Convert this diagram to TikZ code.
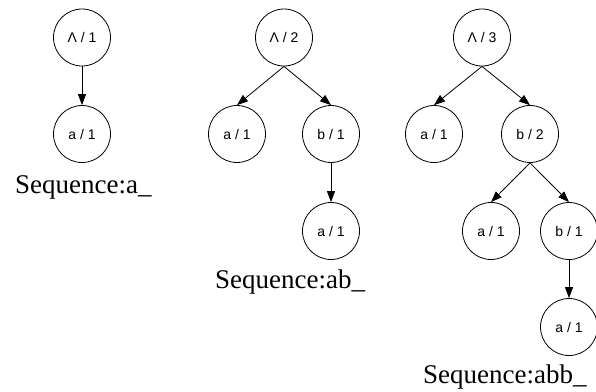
\documentclass[tikz,border=0pt]{standalone}
\usepackage{fontspec}
\setmainfont{Liberation Serif}
\newfontfamily\labfont{Liberation Sans}
\usetikzlibrary{arrows.meta}
\begin{document}
\begin{tikzpicture}[x=1pt,y=-1pt,
  tnode/.style={circle,draw,line width=0.8pt,minimum size=57pt,inner sep=0pt,font=\labfont\fontsize{14}{16}\selectfont},
  link/.style={line width=0.8pt,-{Triangle[length=11pt,width=8pt]}},
  seqcap/.style={anchor=base west,inner sep=0pt,font=\fontsize{27}{30}\selectfont}]
\useasboundingbox (0,0) rectangle (596,391);
% tree 1
\node[tnode] (r1) at (82,37.5) {Λ / 1};
\node[tnode] (r1a) at (82,134) {a / 1};
\draw[link] (r1.south) -- (r1a.north);
\node[seqcap] (s1) at (15,193) {Sequence:a\_};
% tree 2
\node[tnode] (r2) at (284,37.5) {Λ / 2};
\node[tnode] (r2a) at (237,134) {a / 1};
\node[tnode] (r2b) at (331,134) {b / 1};
\node[tnode] (r2ba) at (331,231) {a / 1};
\draw[link] (r2.south) -- (r2a.north);
\draw[link] (r2.south) -- (r2b.north);
\draw[link] (r2b.south) -- (r2ba.north);
\node[seqcap] (s2) at (215,288) {Sequence:ab\_};
% tree 3
\node[tnode] (r3) at (482,37.5) {Λ / 3};
\node[tnode] (r3a) at (434,134) {a / 1};
\node[tnode] (r3b) at (530,134) {b / 2};
\node[tnode] (r3ba) at (491,231) {a / 1};
\node[tnode] (r3bb) at (569,231) {b / 1};
\node[tnode] (r3bba) at (569,327) {a / 1};
\draw[link] (r3.south) -- (r3a.north);
\draw[link] (r3.south) -- (r3b.north);
\draw[link] (r3b.south) -- (r3ba.north);
\draw[link] (r3b.south) -- (r3bb.north);
\draw[link] (r3bb.south) -- (r3bba.north);
\node[seqcap] (s3) at (423,383.5) {Sequence:abb\_};
\end{tikzpicture}
\end{document}
